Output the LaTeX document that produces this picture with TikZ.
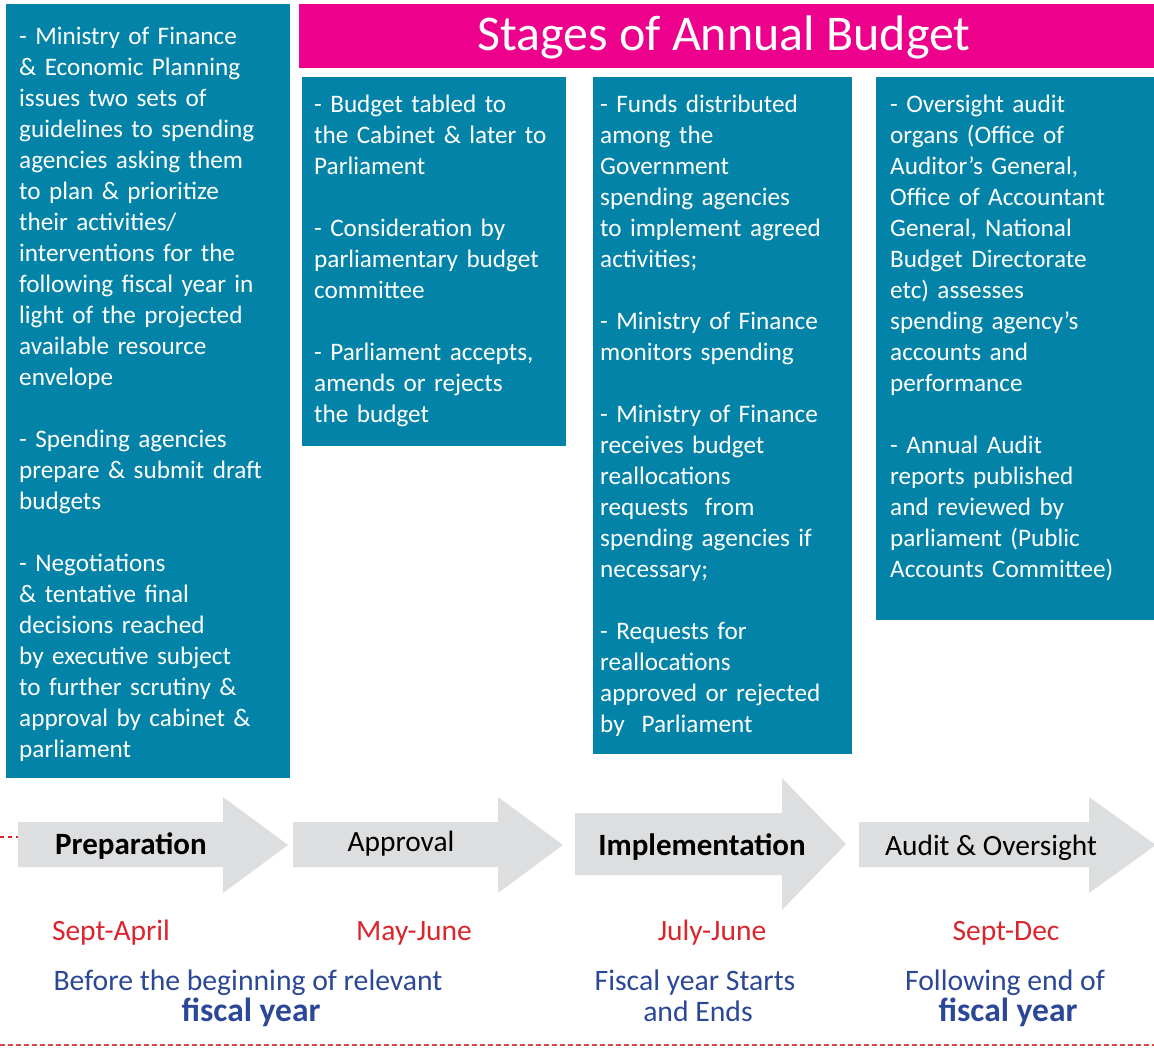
\documentclass[tikz,border=0pt]{standalone}
\usepackage{fontspec}
\setmainfont{Carlito}
\definecolor{panelblue}{RGB}{4,131,168}
\definecolor{titlepink}{RGB}{236,0,140}
\definecolor{arrowgray}{RGB}{221,222,224}
\definecolor{daterd}{RGB}{218,37,44}
\definecolor{noteblue}{RGB}{43,71,151}
\definecolor{dashrd}{RGB}{222,70,80}
\begin{document}
\begin{tikzpicture}[x=1pt,y=-1pt,
  panel/.style={fill=panelblue, draw=none, anchor=north west, inner sep=0pt, outer sep=0pt},
  paneltext/.style={anchor=base west, inner sep=0pt, align=left, text=white,
    font=\fontsize{25.2}{31}\selectfont, text width=#1},
  stagearrow/.style={fill=arrowgray, draw=none},
  stagelabel/.style={anchor=base, inner sep=0pt, font=\fontsize{29.4}{31}\selectfont, text=black},
  stagebold/.style={anchor=base, inner sep=0pt, font=\fontsize{31}{31}\selectfont\bfseries, text=black},
  datelabel/.style={anchor=base, inner sep=0pt, font=\fontsize{29.5}{31}\selectfont, text=daterd},
  notelabel/.style={anchor=base, inner sep=0pt, font=\fontsize{29.7}{31}\selectfont, text=noteblue},
  notebold/.style={anchor=base, inner sep=0pt, font=\fontsize{33.5}{33}\selectfont\bfseries, text=noteblue},
]
\useasboundingbox (0,0) rectangle (1154,1048);
\clip (0,0) rectangle (1154,1048);

% ---- title bar ----
\node[fill=titlepink, anchor=north west, inner sep=0pt, minimum width=855pt, minimum height=64pt] (title) at (299,4) {};
\node[anchor=base, inner sep=0pt, text=white, font=\fontsize{50}{50}\selectfont] (titletext) at (724,51) {Stages of Annual Budget};

% ---- panels ----
\node[panel, minimum width=284pt, minimum height=774pt] (prepbox) at (6,4) {};
\node[panel, minimum width=264pt, minimum height=369pt] (apprbox) at (302,77) {};
\node[panel, minimum width=259pt, minimum height=677pt] (implbox) at (593,77) {};
\node[panel, minimum width=278pt, minimum height=543pt] (auditbox) at (876,77) {};

\node[paneltext=268pt] (preptext) at (19,44.5) {%
- Ministry of Finance\\
\& Economic Planning\\
issues two sets of\\
guidelines to spending\\
agencies asking them\\
to plan \& prioritize\\
their activities/\\
interventions for the\\
following fiscal year in\\
light of the projected\\
available resource\\
envelope\\[31pt]
- Spending agencies\\
prepare \& submit draft\\
budgets\\[31pt]
- Negotiations\\
\& tentative final\\
decisions reached\\
by executive subject\\
to further scrutiny \&\\
approval by cabinet \&\\
parliament};

\node[paneltext=250pt] (apprtext) at (314,112.5) {%
- Budget tabled to\\
the Cabinet \& later to\\
Parliament\\[31pt]
- Consideration by\\
parliamentary budget\\
committee\\[31pt]
- Parliament accepts,\\
amends or rejects\\
the budget};

\node[paneltext=250pt] (impltext) at (600,112.5) {%
- Funds distributed\\
among the\\
Government\\
spending agencies\\
to implement agreed\\
activities;\\[31pt]
- Ministry of Finance\\
monitors spending\\[31pt]
- Ministry of Finance\\
receives budget\\
reallocations\\
requests\ \ from\\
spending agencies if\\
necessary;\\[31pt]
- Requests for\\
reallocations\\
approved or rejected\\
by\ \ Parliament};

\node[paneltext=262pt] (audittext) at (890,112.5) {%
- Oversight audit\\
organs (Office of\\
Auditor’s General,\\
Office of Accountant\\
General, National\\
Budget Directorate\\
etc) assesses\\
spending agency’s\\
accounts and\\
performance\\[31pt]
- Annual Audit\\
reports published\\
and reviewed by\\
parliament (Public\\
Accounts Committee)};

% ---- stage arrows ----
\coordinate (dashstart) at (0,837);
\coordinate (prepwest) at (18,837);
\draw[daterd, line width=1.3pt, dash pattern=on 4pt off 4pt] (dashstart) -- (prepwest);

\fill[stagearrow] (18,822) -- (223,822) -- (223,797) -- (288,845) -- (223,893) -- (223,867) -- (18,867) -- cycle;
\fill[stagearrow] (293,822) -- (498,822) -- (498,797) -- (563,845) -- (498,893) -- (498,867) -- (293,867) -- cycle;
\fill[stagearrow] (575,813) -- (782,813) -- (782,778) -- (846,844) -- (782,910) -- (782,875) -- (575,875) -- cycle;
\fill[stagearrow] (859,822) -- (1089,822) -- (1089,797) -- (1156,845) -- (1089,893) -- (1089,867) -- (859,867) -- cycle;

\node[stagebold] (prep) at (131,854) {Preparation};
\node[stagelabel] (appr) at (401,851) {Approval};
\node[stagebold] (impl) at (702,855) {Implementation};
\node[stagelabel] (audit) at (991,855) {Audit \& Oversight};

% ---- periods ----
\node[datelabel] (prepdate) at (111,940) {Sept-April};
\node[datelabel] (apprdate) at (414,940) {May-June};
\node[datelabel] (impldate) at (712,940) {July-June};
\node[datelabel] (auditdate) at (1006,940) {Sept-Dec};

\node[notelabel] (prepnote) at (248,990) {Before the beginning of relevant};
\node[notebold] (prepnoteb) at (251,1021) {fiscal year};
\node[notelabel] (implnote) at (695,990) {Fiscal year Starts};
\node[notelabel] (implnoteb) at (698,1021) {and Ends};
\node[notelabel] (auditnote) at (1005,990) {Following end of};
\node[notebold] (auditnoteb) at (1008,1021) {fiscal year};

% ---- lower rule ----
\coordinate (rulewest) at (0,1045);
\coordinate (ruleeast) at (1154,1045);
\draw[dashrd, line width=1.2pt, dash pattern=on 5pt off 3pt] (rulewest) -- (ruleeast);
\end{tikzpicture}
\end{document}
